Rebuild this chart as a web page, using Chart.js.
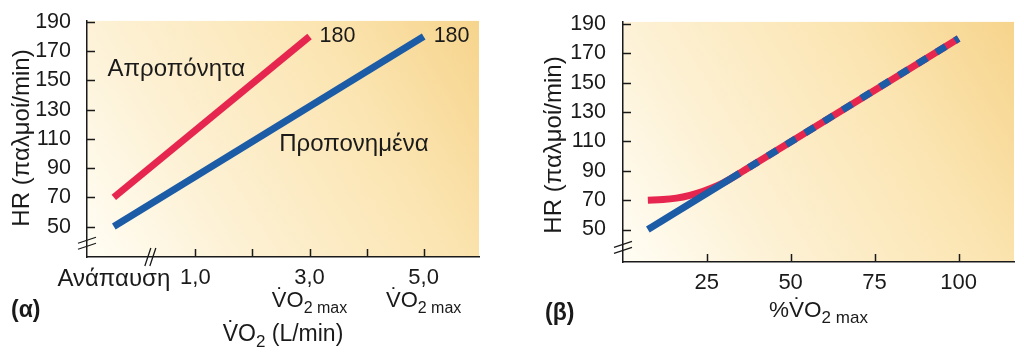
<!DOCTYPE html>
<html><head><meta charset="utf-8">
<script src="https://cdn.jsdelivr.net/npm/chart.js@4/dist/chart.umd.min.js"></script>
<style>
html,body{margin:0;padding:0;background:#fff;width:1024px;height:356px;overflow:hidden}
#ca{position:absolute;left:0;top:0}
#cb{position:absolute;left:520px;top:0}
</style></head><body>
<canvas id="ca" width="500" height="356"></canvas>
<canvas id="cb" width="504" height="356"></canvas>
<script>
// ---------- data ----------
const hrTicks = [50, 70, 90, 110, 130, 150, 170, 190];
// panel (α)
const restX = -0.43;
const vo2Ticks = [1, 2, 3, 4, 5];
const vo2TickLabels = {1: '1,0', 3: '3,0', 5: '5,0'};
const vo2MaxAt = [3, 5];
const untrainedA = [{x: -0.43, y: 70}, {x: 3, y: 180}];
const trainedA = [{x: -0.43, y: 50}, {x: 5, y: 180}];
const endLabelsA = ['180', '180'];
// panel (β)
const pctTicks = [25, 50, 75, 100];
const untrainedB = [{x: 7.5, y: 70}, {x: 12, y: 70.4}, {x: 16, y: 71.4}, {x: 20, y: 73.3},
                    {x: 24, y: 76.0}, {x: 28, y: 79.6}, {x: 32, y: 84.4}, {x: 36, y: 90.0}, {x: 100, y: 180}];
const trainedB = [{x: 7.5, y: 50}, {x: 32, y: 84.4}, {x: 100, y: 180}];

// ---------- style ----------
const RED = '#e6264f', BLUE = '#1c5ba6', INK = '#1a1a1a';
const FONT = '"Liberation Sans", Arial, Helvetica, sans-serif';
const f = (s, w) => (w ? w + ' ' : '') + s + 'px ' + FONT;

const bgPlugin = {
  id: 'bg',
  beforeDraw(c) {
    const {ctx, chartArea: a} = c;
    const g = ctx.createLinearGradient(a.left, a.bottom, a.right, a.top);
    g.addColorStop(0, '#fffdf4');
    g.addColorStop(0.3, '#fdf1d4');
    g.addColorStop(0.7, '#fbe4b0');
    g.addColorStop(1, '#f6d48c');
    ctx.save();
    ctx.fillStyle = g;
    ctx.fillRect(a.left, a.top, a.right - a.left, a.bottom - a.top);
    ctx.restore();
  }
};

function innerTicks(c, xVals, yVals) {
  const {ctx, chartArea: a, scales: {x, y}} = c;
  ctx.save();
  ctx.strokeStyle = INK; ctx.lineWidth = 1.5;
  ctx.beginPath();
  yVals.forEach(v => { const p = Math.round(y.getPixelForValue(v)) + 0.5; ctx.moveTo(a.left, p); ctx.lineTo(a.left + 8, p); });
  xVals.forEach(v => { const p = Math.round(x.getPixelForValue(v)) + 0.5; ctx.moveTo(p, a.bottom); ctx.lineTo(p, a.bottom - 8); });
  ctx.stroke();
  ctx.restore();
}
function yBreak(c, v) {
  const {ctx, chartArea: a, scales: {y}} = c;
  const p = y.getPixelForValue(v);
  ctx.save(); ctx.strokeStyle = INK; ctx.lineWidth = 1.3; ctx.beginPath();
  [-3, 3].forEach(d => { ctx.moveTo(a.left - 9, p + d + 3); ctx.lineTo(a.left + 9, p + d - 3); });
  ctx.stroke(); ctx.restore();
}
function xBreak(c, v) {
  const {ctx, chartArea: a, scales: {x}} = c;
  const p = x.getPixelForValue(v);
  ctx.save(); ctx.strokeStyle = INK; ctx.lineWidth = 1.3; ctx.beginPath();
  [-2.5, 2.5].forEach(d => { ctx.moveTo(p + d - 3, a.bottom + 9); ctx.lineTo(p + d + 3, a.bottom - 9); });
  ctx.stroke(); ctx.restore();
}
// draws [prefix]V̇O + subscript + [suffix], centered at cx, baseline by
function drawVO2(ctx, cx, by, size, sub, prefix, suffix) {
  const subSize = Math.round(size * 0.74);
  const parts = [
    {t: prefix || '', s: size, dy: 0},
    {t: 'V', s: size, dy: 0, v: true},
    {t: 'O', s: size, dy: 0},
    {t: sub, s: subSize, dy: size * 0.25},
    {t: suffix || '', s: size, dy: 0}
  ];
  let w = 0;
  parts.forEach(p => { ctx.font = f(p.s); p.w = ctx.measureText(p.t).width; w += p.w; });
  let x = cx - w / 2;
  ctx.save(); ctx.fillStyle = INK; ctx.textAlign = 'left'; ctx.textBaseline = 'alphabetic';
  parts.forEach(p => {
    ctx.font = f(p.s);
    ctx.fillText(p.t, x, by + p.dy);
    if (p.v) {
      const dw = ctx.measureText('\u02D9').width;
      ctx.fillText('\u02D9', x + p.w / 2 - dw / 2 + 1, by - size * 0.16);
    }
    x += p.w;
  });
  ctx.restore();
}
function text(ctx, t, x, y, size, align, weight) {
  ctx.save(); ctx.fillStyle = INK; ctx.font = f(size, weight);
  ctx.textAlign = align || 'left'; ctx.textBaseline = 'middle';
  ctx.fillText(t, x, y); ctx.restore();
}
function yTitle(ctx, t, x, y, size) {
  ctx.save(); ctx.translate(x, y); ctx.rotate(-Math.PI / 2);
  ctx.fillStyle = INK; ctx.font = f(size); ctx.textAlign = 'center'; ctx.textBaseline = 'middle';
  ctx.fillText(t, 0, 0); ctx.restore();
}

const overlayA = {
  id: 'overlayA',
  afterDraw(c) {
    const {ctx, scales: {x, y}} = c;
    innerTicks(c, vo2Ticks, hrTicks);
    yBreak(c, 38.6);
    xBreak(c, 0.21);
    [untrainedA, trainedA].forEach((d, i) => {
      const e = d[d.length - 1];
      text(ctx, endLabelsA[i], x.getPixelForValue(e.x) + 10, y.getPixelForValue(e.y), 21.5);
    });
    text(ctx, 'Απροπόνητα', x.getPixelForValue(-0.54), y.getPixelForValue(157.8), 24);
    text(ctx, 'Προπονημένα', x.getPixelForValue(2.47), y.getPixelForValue(106.3), 24);
    vo2MaxAt.forEach(v => drawVO2(ctx, x.getPixelForValue(v), 307, 22, '2 max'));
    drawVO2(ctx, (c.chartArea.left + c.chartArea.right) / 2, 341, 23, '2', '', ' (L/min)');
    text(ctx, '(α)', 11, 311, 23, 'left', 'bold');
    yTitle(ctx, 'HR (παλμοί/min)', 22, 138, 24);
  }
};
const overlayB = {
  id: 'overlayB',
  afterDraw(c) {
    const {ctx, chartArea: a} = c;
    innerTicks(c, pctTicks, hrTicks);
    yBreak(c, 37.8);
    drawVO2(ctx, (a.left + a.right) / 2, 317, 22.5, '2 max', '%');
    text(ctx, '(β)', 25, 314, 23, 'left', 'bold');
    yTitle(ctx, 'HR (παλμοί/min)', 34, 145, 24);
  }
};

function yScale(min, max, width, pad) {
  return {
    type: 'linear', min, max,
    afterBuildTicks: s => { s.ticks = hrTicks.map(v => ({value: v})); },
    afterFit: s => { s.width = width; },
    grid: {display: false},
    border: {display: true, color: INK, width: 1.5},
    ticks: {color: INK, font: {family: FONT, size: 21.5}, padding: pad}
  };
}
const lineDs = (data, color, extra) => Object.assign({
  data, borderColor: color, borderWidth: 7, pointRadius: 0, fill: false,
  borderCapStyle: 'butt', tension: 0
}, extra || {});

new Chart(document.getElementById('ca'), {
  type: 'line',
  data: {datasets: [
    lineDs(trainedA, BLUE, {order: 0}),
    lineDs(untrainedA, RED, {order: 1})
  ]},
  options: {
    responsive: false, animation: false,
    layout: {padding: {top: 16, right: 21, left: 0, bottom: 0}},
    plugins: {legend: {display: false}, tooltip: {enabled: false}},
    scales: {
      x: {
        type: 'linear', min: -0.9, max: 5.97,
        afterBuildTicks: s => { s.ticks = [restX].concat(vo2Ticks).map(v => ({value: v})); },
        afterFit: s => { s.height = 99; },
        grid: {display: false},
        border: {display: true, color: INK, width: 1.5},
        ticks: {color: INK, padding: 0, maxRotation: 0, autoSkip: false,
          font: ctx => ({family: FONT, size: (ctx.tick && ctx.tick.value === restX) ? 24 : 22}),
          callback: v => v === restX ? 'Ανάπαυση' : (vo2TickLabels[v] || '')}
      },
      y: yScale(29.2, 190.67, 87, 8)
    }
  },
  plugins: [bgPlugin, overlayA]
});

new Chart(document.getElementById('cb'), {
  type: 'line',
  data: {datasets: [
    lineDs(trainedB, BLUE, {order: 0, segment: {borderDash: ctx => ctx.p0.parsed.x >= 32 ? [11, 11] : undefined}}),
    lineDs(untrainedB, RED, {order: 1, cubicInterpolationMode: 'monotone'})
  ]},
  options: {
    responsive: false, animation: false,
    layout: {padding: {top: 20, right: 10, left: 0, bottom: 0}},
    plugins: {legend: {display: false}, tooltip: {enabled: false}},
    scales: {
      x: {
        type: 'linear', min: 0.1, max: 116.5,
        afterBuildTicks: s => { s.ticks = pctTicks.map(v => ({value: v})); },
        afterFit: s => { s.height = 94; },
        grid: {display: false},
        border: {display: true, color: INK, width: 1.5},
        ticks: {color: INK, font: {family: FONT, size: 22}, padding: 0, maxRotation: 0, autoSkip: false}
      },
      y: yScale(27.9, 191.35, 103, 9)
    }
  },
  plugins: [bgPlugin, overlayB]
});
</script>
</body></html>
